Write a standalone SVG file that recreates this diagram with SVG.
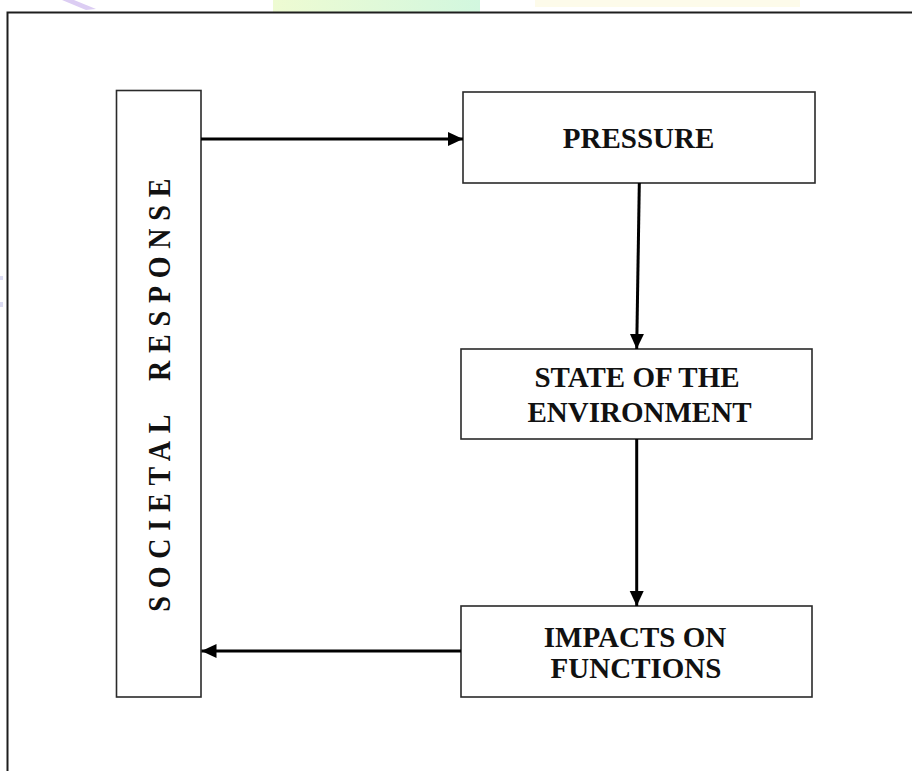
<svg xmlns="http://www.w3.org/2000/svg" width="912" height="771" viewBox="0 0 912 771">
  <defs>
    <style>
      .box { fill: #ffffff; stroke: #2a2a2a; stroke-width: 1.6; }
      .lbl { font-family: "Liberation Serif", "Times New Roman", serif; font-weight: bold; font-size: 29px; fill: #111111; text-anchor: middle; }
      .vlbl { font-family: "Liberation Serif", "Times New Roman", serif; font-weight: bold; font-size: 28px; fill: #111111; letter-spacing: 7.8px; }
      .conn { stroke: #000000; stroke-width: 3; fill: none; marker-end: url(#head); }
    </style>
    <marker id="head" markerUnits="userSpaceOnUse" markerWidth="16" markerHeight="15" refX="15" refY="7" orient="auto">
      <path d="M0,0 L15,7 L0,14 Z" fill="#000000"/>
    </marker>
    <linearGradient id="band" x1="0" y1="0" x2="1" y2="0">
      <stop offset="0" stop-color="#eefbd2"/>
      <stop offset="1" stop-color="#d2f7df"/>
    </linearGradient>
  </defs>

  <rect width="912" height="771" fill="#ffffff"/>

  <!-- faint header decoration above the frame -->
  <g id="header-marks">
    <path d="M62,0 L74,0 L96,9 L86,10 Z" fill="#dccdf3"/>
    <rect x="273" y="0" width="207" height="12" fill="url(#band)"/>
    <rect x="535" y="0" width="265" height="7" fill="#fdfbea"/>
    <rect x="0" y="276" width="3" height="4" fill="#dcdcf3"/>
    <rect x="0" y="302" width="3" height="5" fill="#dcdcf3"/>
  </g>

  <!-- outer frame -->
  <rect id="frame" x="7.5" y="12.5" width="912" height="771" fill="none" stroke="#1e1e1e" stroke-width="2"/>

  <g id="societal-response">
    <rect class="box" x="116.5" y="90.5" width="84.5" height="606.5"/>
    <text class="vlbl" transform="translate(170,611.7) rotate(-90) scale(1,1.13)" x="0" y="0">SOCIETAL&#160;<tspan dx="11">RESPONSE</tspan></text>
  </g>

  <g id="pressure">
    <rect class="box" x="463" y="92" width="352" height="91"/>
    <text class="lbl" x="638.5" y="148">PRESSURE</text>
  </g>

  <g id="state">
    <rect class="box" x="461" y="349" width="351" height="90"/>
    <text class="lbl" x="637" y="387">STATE OF THE</text>
    <text class="lbl" x="639.5" y="422">ENVIRONMENT</text>
  </g>

  <g id="impacts">
    <rect class="box" x="461" y="606" width="351" height="91"/>
    <text class="lbl" x="635" y="647">IMPACTS ON</text>
    <text class="lbl" x="636" y="678">FUNCTIONS</text>
  </g>

  <g id="connectors">
    <line class="conn" x1="201" y1="139" x2="463" y2="139"/>
    <line class="conn" x1="639.3" y1="183" x2="636.7" y2="349"/>
    <line class="conn" x1="636.7" y1="439" x2="636.7" y2="606"/>
    <line class="conn" x1="461" y1="651" x2="201.5" y2="651"/>
  </g>
</svg>
